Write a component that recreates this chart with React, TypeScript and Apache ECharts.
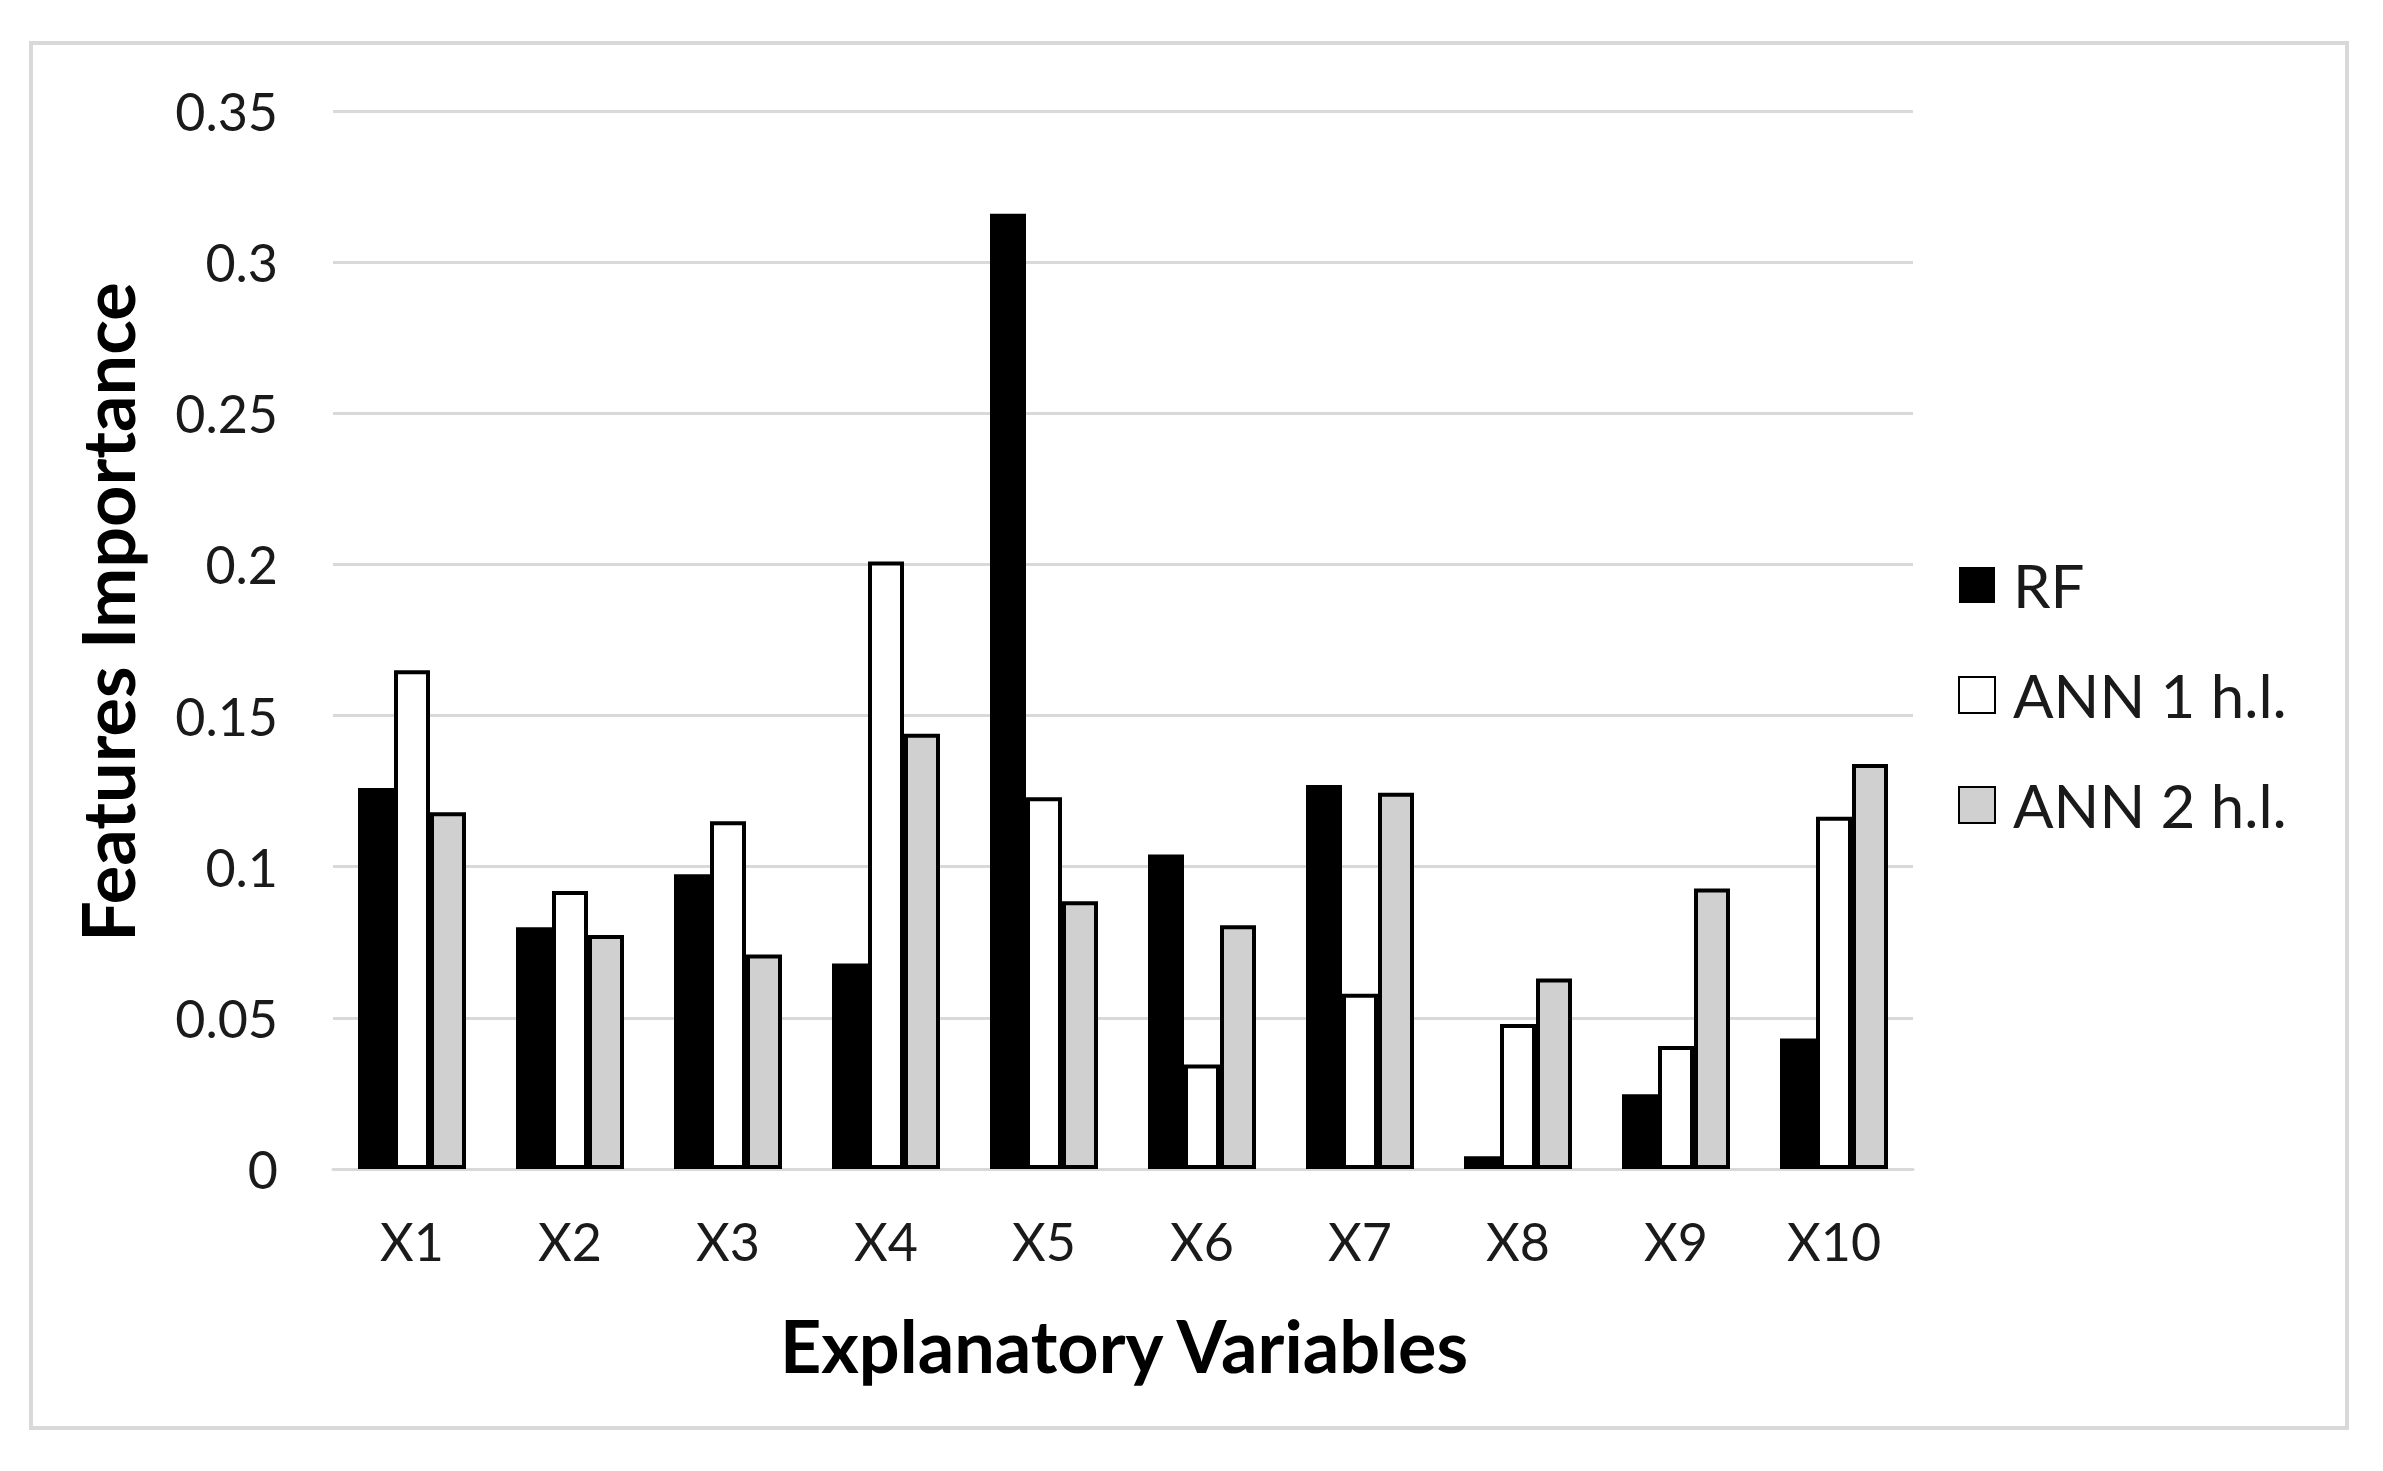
import React, { useEffect, useRef } from "react";
import * as echarts from "echarts";

const categories = ["X1", "X2", "X3", "X4", "X5", "X6", "X7", "X8", "X9", "X10"];
const seriesNames = ["RF", "ANN 1 h.l.", "ANN 2 h.l."];
const rfValues = [0.126, 0.08, 0.0975, 0.068, 0.316, 0.104, 0.127, 0.0042, 0.0247, 0.0432];
const ann1Values = [0.165, 0.092, 0.115, 0.201, 0.123, 0.0346, 0.058, 0.048, 0.0407, 0.1165];
const ann2Values = [0.118, 0.0774, 0.071, 0.144, 0.0886, 0.0806, 0.1245, 0.063, 0.0928, 0.134];
const yTicks = { min: 0, max: 0.35, interval: 0.05 };
const xTitle = "Explanatory Variables";
const yTitle = "Features Importance";

const W = 2383;
const H = 1471;
const FONT = "Lato, 'Open Sans', sans-serif";

export default function App() {
  const ref = useRef<HTMLDivElement>(null);
  useEffect(() => {
    if (!ref.current) return;
    const chart = echarts.init(ref.current, null, { renderer: "svg", width: W, height: H });
    const barBase = { type: "bar", barWidth: 36, barGap: "0%" };
    chart.setOption({
      animation: false,
      backgroundColor: "#ffffff",
      textStyle: { fontFamily: FONT },
      grid: { left: 333, right: W - 1913, top: 111, bottom: H - 1169, containLabel: false },
      xAxis: {
        type: "category",
        data: categories,
        axisLine: { show: true, lineStyle: { color: "#d9d9d9", width: 3 } },
        axisTick: { show: false },
        axisLabel: { color: "#1a1a1a", fontSize: 52, fontFamily: FONT, margin: 46, lineHeight: 52 },
      },
      yAxis: {
        type: "value",
        min: yTicks.min,
        max: yTicks.max,
        interval: yTicks.interval,
        axisLine: { show: false },
        axisTick: { show: false },
        splitLine: { lineStyle: { color: "#d9d9d9", width: 3 } },
        axisLabel: { color: "#1a1a1a", fontSize: 52, fontFamily: FONT, margin: 55 },
      },
      legend: {
        orient: "vertical",
        left: 1953,
        top: 549,
        itemWidth: 36,
        itemHeight: 36,
        itemGap: 48,
        icon: "rect",
        selectedMode: false,
        textStyle: { fontSize: 60, fontFamily: FONT, color: "#1a1a1a", lineHeight: 62, padding: [0, 0, 0, 13] },
        data: seriesNames,
      },
      graphic: [
        {
          type: "rect",
          shape: { x: 31, y: 43, width: 2316, height: 1385 },
          style: { fill: "none", stroke: "#d9d9d9", lineWidth: 4 },
          silent: true,
        },
        {
          type: "text",
          x: 1124,
          y: 1345,
          style: {
            text: xTitle,
            font: `bold 72px ${FONT}`,
            fill: "#000000",
            textAlign: "center",
            textVerticalAlign: "middle",
          },
        },
        {
          type: "text",
          x: 107,
          y: 612,
          rotation: Math.PI / 2,
          style: {
            text: yTitle,
            font: `bold 72px ${FONT}`,
            fill: "#000000",
            textAlign: "center",
            textVerticalAlign: "middle",
          },
        },
      ],
      series: [
        { ...barBase, name: seriesNames[0], data: rfValues, itemStyle: { color: "#000000", borderColor: "#000000", borderWidth: 0 } },
        { ...barBase, name: seriesNames[1], data: ann1Values, itemStyle: { color: "#ffffff", borderColor: "#000000", borderWidth: 4 } },
        { ...barBase, name: seriesNames[2], data: ann2Values, itemStyle: { color: "#d0d0d0", borderColor: "#000000", borderWidth: 4 } },
      ],
    });
    return () => chart.dispose();
  }, []);
  return <div ref={ref} style={{ position: "absolute", left: 0, top: 0, width: W, height: H }} />;
}
